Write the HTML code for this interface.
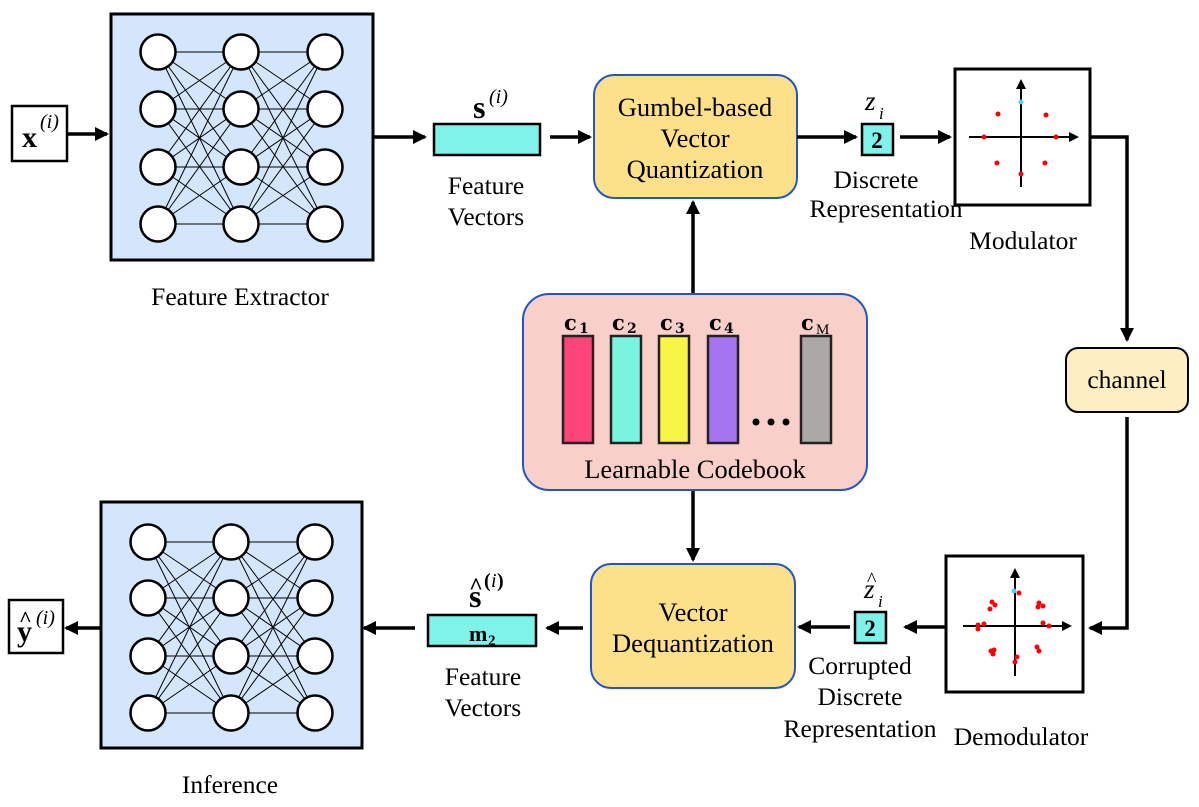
<!DOCTYPE html>
<html><head><meta charset="utf-8"><style>
html,body{margin:0;padding:0;background:#fff;}
svg{display:block;font-family:"Liberation Serif",serif;}
</style></head><body>
<svg id="s" width="1199" height="807" viewBox="0 0 1199 807" xmlns="http://www.w3.org/2000/svg">
<defs>
<marker id="a" markerWidth="10" markerHeight="10" refX="8" refY="5" orient="auto" markerUnits="userSpaceOnUse"><path d="M0,0 L10,5 L0,10 z" fill="#000"/></marker>
<marker id="b" markerWidth="14" markerHeight="14" refX="12" refY="7" orient="auto" markerUnits="userSpaceOnUse"><path d="M0,0 L14,7 L0,14 z" fill="#000"/></marker>
</defs>
<rect x="111" y="14" width="262" height="246" fill="#d4e6fc" stroke="#000" stroke-width="3"/>
<g id="nn1"></g>
<rect x="101" y="502" width="261" height="246" fill="#d4e6fc" stroke="#000" stroke-width="3"/>
<g id="nn2"></g>
<text x="240" y="305" font-size="25.5" text-anchor="middle">Feature Extractor</text>
<text x="230" y="793" font-size="25.5" text-anchor="middle">Inference</text>

<rect x="12" y="106" width="55" height="55" fill="#fff" stroke="#000" stroke-width="2.5"/>
<text x="22" y="147" font-size="30" font-weight="bold">x</text><text x="40" y="128" font-size="20" font-style="italic">(i)</text>
<line x1="67" y1="134" x2="107" y2="134" stroke="#000" stroke-width="3.5" marker-end="url(#b)"/>
<line x1="373" y1="137" x2="425" y2="137" stroke="#000" stroke-width="3.5" marker-end="url(#b)"/>

<rect x="434" y="124" width="106" height="31" fill="#7ff3ea" stroke="#000" stroke-width="2.5"/>
<text x="473" y="118" font-size="32" font-weight="bold">s</text><text x="489" y="103" font-size="20" font-style="italic">(i)</text>
<text x="486" y="194" font-size="25.5" text-anchor="middle">Feature</text>
<text x="486" y="225" font-size="25.5" text-anchor="middle">Vectors</text>
<line x1="550" y1="137" x2="590" y2="137" stroke="#000" stroke-width="3.5" marker-end="url(#b)"/>

<rect x="594" y="75" width="203" height="123" rx="20" fill="#fde08a" stroke="#2255cc" stroke-width="2"/>
<text x="695" y="116" font-size="26.5" text-anchor="middle">Gumbel-based</text>
<text x="695" y="147" font-size="26.5" text-anchor="middle">Vector</text>
<text x="695" y="178" font-size="26.5" text-anchor="middle">Quantization</text>
<line x1="797" y1="137" x2="856" y2="137" stroke="#000" stroke-width="3.5" marker-end="url(#b)"/>

<rect x="862" y="124" width="31" height="31" fill="#7ff3ea" stroke="#000" stroke-width="2.5"/>
<text x="877" y="148" font-size="23" font-weight="bold" text-anchor="middle">2</text>
<text x="865" y="110" font-size="27" font-style="italic">z</text><text x="879" y="119" font-size="17" font-style="italic">i</text>
<text x="876" y="188" font-size="25.5" text-anchor="middle">Discrete</text>
<text x="886" y="217" font-size="25.5" text-anchor="middle">Representation</text>
<line x1="900" y1="137" x2="950" y2="137" stroke="#000" stroke-width="3.5" marker-end="url(#b)"/>

<rect x="955" y="69" width="135" height="136" fill="#fff" stroke="#000" stroke-width="3"/>
<line x1="969" y1="137" x2="1077" y2="137" stroke="#000" stroke-width="2" marker-end="url(#a)"/>
<line x1="1021" y1="187" x2="1021" y2="81" stroke="#000" stroke-width="2" marker-end="url(#a)"/>
<g fill="#f00"><circle cx="998" cy="114" r="2.5"/><circle cx="1046" cy="115" r="2.5"/><circle cx="984" cy="137" r="2.5"/><circle cx="1056" cy="137" r="2.5"/><circle cx="997" cy="163" r="2.5"/><circle cx="1045" cy="163" r="2.5"/><circle cx="1021" cy="174" r="2.5"/></g>
<circle cx="1021" cy="102" r="2.5" fill="#4cd3f0"/>
<text x="1023" y="249" font-size="25.5" text-anchor="middle">Modulator</text>

<polyline points="1090,137 1127,137 1127,340" fill="none" stroke="#000" stroke-width="3.5" marker-end="url(#b)"/>
<rect x="1066" y="348" width="122" height="64" rx="12" fill="#fdefc3" stroke="#000" stroke-width="2"/>
<text x="1127" y="388" font-size="25.5" text-anchor="middle">channel</text>
<polyline points="1127,417 1127,628 1090,628" fill="none" stroke="#000" stroke-width="3.5" marker-end="url(#b)"/>

<rect x="946" y="556" width="137" height="136" fill="#fff" stroke="#000" stroke-width="3"/>
<line x1="963" y1="626" x2="1070" y2="626" stroke="#000" stroke-width="2" marker-end="url(#a)"/>
<line x1="1015" y1="676" x2="1015" y2="570" stroke="#000" stroke-width="2" marker-end="url(#a)"/>
<g fill="#f00">
<circle cx="1019" cy="593" r="2.5"/><circle cx="992" cy="602" r="2.5"/><circle cx="995" cy="605" r="2.5"/><circle cx="990" cy="609" r="2.5"/>
<circle cx="1039" cy="603" r="2.5"/><circle cx="1043" cy="606" r="2.5"/><circle cx="1038" cy="607" r="2.5"/>
<circle cx="978" cy="625" r="2.5"/><circle cx="978" cy="629" r="2.5"/><circle cx="984" cy="624" r="2.5"/>
<circle cx="1043" cy="623" r="2.5"/><circle cx="1049" cy="626" r="2.5"/>
<circle cx="994" cy="650" r="2.5"/><circle cx="991" cy="651" r="2.5"/><circle cx="993" cy="654" r="2.5"/>
<circle cx="1037" cy="647" r="2.5"/><circle cx="1039" cy="651" r="2.5"/>
<circle cx="1017" cy="657" r="2.5"/><circle cx="1015" cy="662" r="2.5"/></g>
<circle cx="1014" cy="591" r="2.5" fill="#4cd3f0"/>
<text x="1021" y="745" font-size="25.5" text-anchor="middle">Demodulator</text>

<line x1="946" y1="627" x2="905" y2="627" stroke="#000" stroke-width="3.5" marker-end="url(#b)"/>
<rect x="855" y="612" width="31" height="31" fill="#7ff3ea" stroke="#000" stroke-width="2.5"/>
<text x="870" y="636" font-size="23" font-weight="bold" text-anchor="middle">2</text>
<text x="864" y="598" font-size="27" font-style="italic">z</text><text x="867" y="586" font-size="20">^</text><text x="878" y="607" font-size="17" font-style="italic">i</text>
<text x="860" y="674" font-size="25.5" text-anchor="middle">Corrupted</text>
<text x="860" y="705" font-size="25.5" text-anchor="middle">Discrete</text>
<text x="860" y="737" font-size="25.5" text-anchor="middle">Representation</text>
<line x1="850" y1="627" x2="799" y2="627" stroke="#000" stroke-width="3.5" marker-end="url(#b)"/>

<rect x="591" y="564" width="204" height="124" rx="20" fill="#fde08a" stroke="#2255cc" stroke-width="2"/>
<text x="693" y="621" font-size="26.5" text-anchor="middle">Vector</text>
<text x="693" y="652" font-size="26.5" text-anchor="middle">Dequantization</text>
<line x1="583" y1="628" x2="547" y2="628" stroke="#000" stroke-width="3.5" marker-end="url(#b)"/>

<rect x="428" y="615" width="108" height="31" fill="#7ff3ea" stroke="#000" stroke-width="2.5"/>
<text x="469" y="641" font-size="22" font-weight="bold">m</text><text x="488" y="645" font-size="15" font-weight="bold">2</text>
<text x="469" y="607" font-size="32" font-weight="bold">s</text><text x="469" y="594" font-size="24" font-weight="bold">^</text><text x="484" y="587" font-size="20" font-weight="bold">(</text><text x="491" y="587" font-size="20" font-style="italic">i</text><text x="497" y="587" font-size="20" font-weight="bold">)</text>
<text x="483" y="685" font-size="25.5" text-anchor="middle">Feature</text>
<text x="483" y="716" font-size="25.5" text-anchor="middle">Vectors</text>
<line x1="415" y1="628" x2="364" y2="628" stroke="#000" stroke-width="3.5" marker-end="url(#b)"/>
<line x1="101" y1="628" x2="66" y2="628" stroke="#000" stroke-width="3.5" marker-end="url(#b)"/>
<rect x="9" y="600" width="54" height="53" fill="#fff" stroke="#000" stroke-width="2.5"/>
<text x="17" y="641" font-size="30" font-weight="bold">y</text><text x="19" y="626" font-size="22" font-weight="bold">^</text><text x="36" y="624" font-size="20" font-style="italic">(i)</text>

<line x1="693" y1="294" x2="693" y2="202" stroke="#000" stroke-width="3.5" marker-end="url(#b)"/>
<line x1="693" y1="490" x2="693" y2="560" stroke="#000" stroke-width="3.5" marker-end="url(#b)"/>
<rect x="523" y="294" width="344" height="196" rx="26" fill="#f9cfc9" stroke="#2255cc" stroke-width="2"/>
<rect x="563" y="336" width="30" height="107" fill="#fd4378" stroke="#222" stroke-width="2.5"/>
<rect x="611" y="336" width="30" height="107" fill="#79f5df" stroke="#222" stroke-width="2.5"/>
<rect x="659" y="336" width="30" height="107" fill="#f7f545" stroke="#222" stroke-width="2.5"/>
<rect x="708" y="336" width="30" height="107" fill="#a574f0" stroke="#222" stroke-width="2.5"/>
<rect x="801" y="336" width="30" height="107" fill="#aaa9a6" stroke="#222" stroke-width="2.5"/>
<g font-family="DejaVu Serif,serif" font-weight="bold">
<text x="564" y="330" font-size="21">c</text><text x="579" y="333" font-size="14">1</text>
<text x="612" y="330" font-size="21">c</text><text x="627" y="333" font-size="14">2</text>
<text x="660" y="330" font-size="21">c</text><text x="675" y="333" font-size="14">3</text>
<text x="709" y="330" font-size="21">c</text><text x="724" y="333" font-size="14">4</text>
<text x="801" y="330" font-size="21">c</text><text x="816" y="334" font-size="15" font-weight="normal" font-family="Liberation Serif,serif">M</text>
</g>
<circle cx="756" cy="422" r="3.5"/><circle cx="771" cy="422" r="3.5"/><circle cx="786" cy="422" r="3.5"/>
<text x="695" y="478" font-size="26.5" text-anchor="middle">Learnable Codebook</text>
</svg>
<script>
function nn(g,cols,rows){
 var el=document.getElementById(g),h='';
 for(var c=0;c<2;c++)for(var i=0;i<4;i++)for(var j=0;j<4;j++)
  h+='<line x1="'+cols[c]+'" y1="'+rows[i]+'" x2="'+cols[c+1]+'" y2="'+rows[j]+'" stroke="#000" stroke-width="1"/>';
 for(var c=0;c<3;c++)for(var i=0;i<4;i++)
  h+='<circle cx="'+cols[c]+'" cy="'+rows[i]+'" r="17.5" fill="#fff" stroke="#000" stroke-width="2.5"/>';
 el.innerHTML=h;
}
nn('nn1',[158,241,325],[52,109,167,224]);
nn('nn2',[148,231,315],[542,598,656,713]);
</script>
</body></html>
